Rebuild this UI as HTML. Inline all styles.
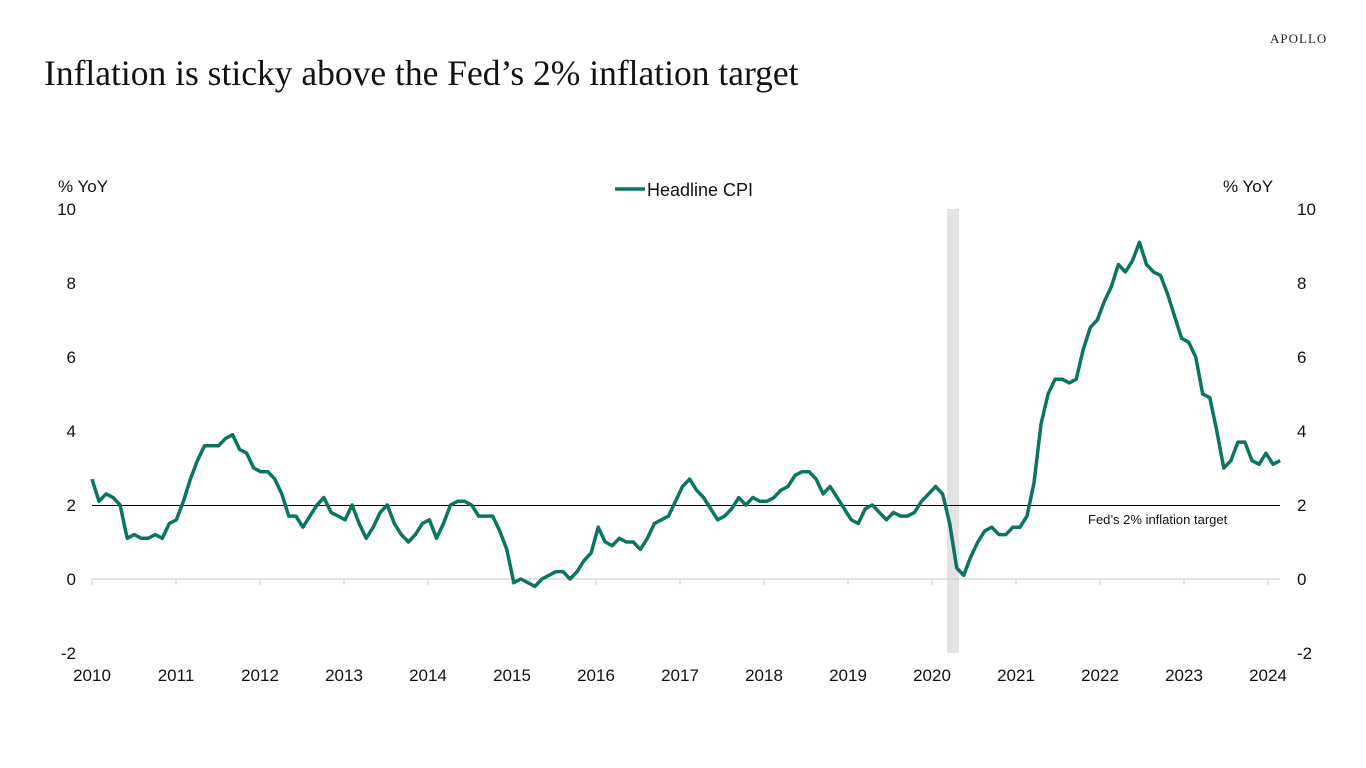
<!DOCTYPE html>
<html><head><meta charset="utf-8"><style>
html,body{margin:0;padding:0;background:#fff;}
body{width:1366px;height:768px;overflow:hidden;position:relative;}
</style></head><body>
<svg width="1366" height="768" xmlns="http://www.w3.org/2000/svg" style="position:absolute;left:0;top:0">
<text x="1270" y="43" font-family="Liberation Serif, serif" font-size="13" letter-spacing="1" fill="#222">APOLLO</text>
<text x="44" y="85" font-family="Liberation Serif, serif" font-size="35.5" fill="#111">Inflation is sticky above the Fed’s 2% inflation target</text>
<rect x="947" y="209" width="12" height="444" fill="#e3e3e3"/>
<g font-family="Liberation Sans, Arial, sans-serif" font-size="17" fill="#111">
<text x="58" y="192">% YoY</text>
<text x="1223" y="192">% YoY</text>
<g text-anchor="end">
<text x="76" y="215">10</text><text x="76" y="289">8</text><text x="76" y="363">6</text><text x="76" y="437">4</text><text x="76" y="511">2</text><text x="76" y="585">0</text><text x="76" y="659">-2</text>
</g>
<g>
<text x="1297" y="215">10</text><text x="1297" y="289">8</text><text x="1297" y="363">6</text><text x="1297" y="437">4</text><text x="1297" y="511">2</text><text x="1297" y="585">0</text><text x="1297" y="659">-2</text>
</g>
<g text-anchor="middle" id="xl"></g>
<text x="647" y="196" font-size="18">Headline CPI</text>
</g>
<line x1="615" y1="189" x2="645" y2="189" stroke="#0b7560" stroke-width="3.5"/>
<line x1="92" y1="579" x2="1280" y2="579" stroke="#c8c8c8" stroke-width="1"/>
<g id="ticks" stroke="#c8c8c8" stroke-width="1"></g>
<line x1="92" y1="505.5" x2="1280" y2="505.5" stroke="#000" stroke-width="1"/>
<text x="1088" y="524" font-family="Liberation Sans, Arial, sans-serif" font-size="13" fill="#111">Fed’s 2% inflation target</text>
<polyline id="cpi" fill="none" stroke="#0b7560" stroke-width="3.5" stroke-linejoin="round" points=""/>
</svg>
<script>
var d=[2.7,2.1,2.3,2.2,2.0,1.1,1.2,1.1,1.1,1.2,1.1,1.5,
1.6,2.1,2.7,3.2,3.6,3.6,3.6,3.8,3.9,3.5,3.4,3.0,
2.9,2.9,2.7,2.3,1.7,1.7,1.4,1.7,2.0,2.2,1.8,1.7,
1.6,2.0,1.5,1.1,1.4,1.8,2.0,1.5,1.2,1.0,1.2,1.5,
1.6,1.1,1.5,2.0,2.1,2.1,2.0,1.7,1.7,1.7,1.3,0.8,
-0.1,0.0,-0.1,-0.2,0.0,0.1,0.2,0.2,0.0,0.2,0.5,0.7,
1.4,1.0,0.9,1.1,1.0,1.0,0.8,1.1,1.5,1.6,1.7,2.1,
2.5,2.7,2.4,2.2,1.9,1.6,1.7,1.9,2.2,2.0,2.2,2.1,
2.1,2.2,2.4,2.5,2.8,2.9,2.9,2.7,2.3,2.5,2.2,1.9,
1.6,1.5,1.9,2.0,1.8,1.6,1.8,1.7,1.7,1.8,2.1,2.3,
2.5,2.3,1.5,0.3,0.1,0.6,1.0,1.3,1.4,1.2,1.2,1.4,
1.4,1.7,2.6,4.2,5.0,5.4,5.4,5.3,5.4,6.2,6.8,7.0,
7.5,7.9,8.5,8.3,8.6,9.1,8.5,8.3,8.2,7.7,7.1,6.5,
6.4,6.0,5.0,4.9,4.0,3.0,3.2,3.7,3.7,3.2,3.1,3.4,
3.1,3.2];
var p=[];for(var i=0;i<d.length;i++){p.push((92+i*7.03).toFixed(1)+","+(579-d[i]*37).toFixed(1));}
document.getElementById("cpi").setAttribute("points",p.join(" "));
var ns="http://www.w3.org/2000/svg",xl=document.getElementById("xl"),tk=document.getElementById("ticks");
for(var y=0;y<=14;y++){var x=92+y*84;
var t=document.createElementNS(ns,"text");t.setAttribute("x",x);t.setAttribute("y",681);t.textContent=2010+y;xl.appendChild(t);
var l=document.createElementNS(ns,"line");l.setAttribute("x1",x);l.setAttribute("x2",x);l.setAttribute("y1",579);l.setAttribute("y2",585);tk.appendChild(l);}
</script>
</body></html>
